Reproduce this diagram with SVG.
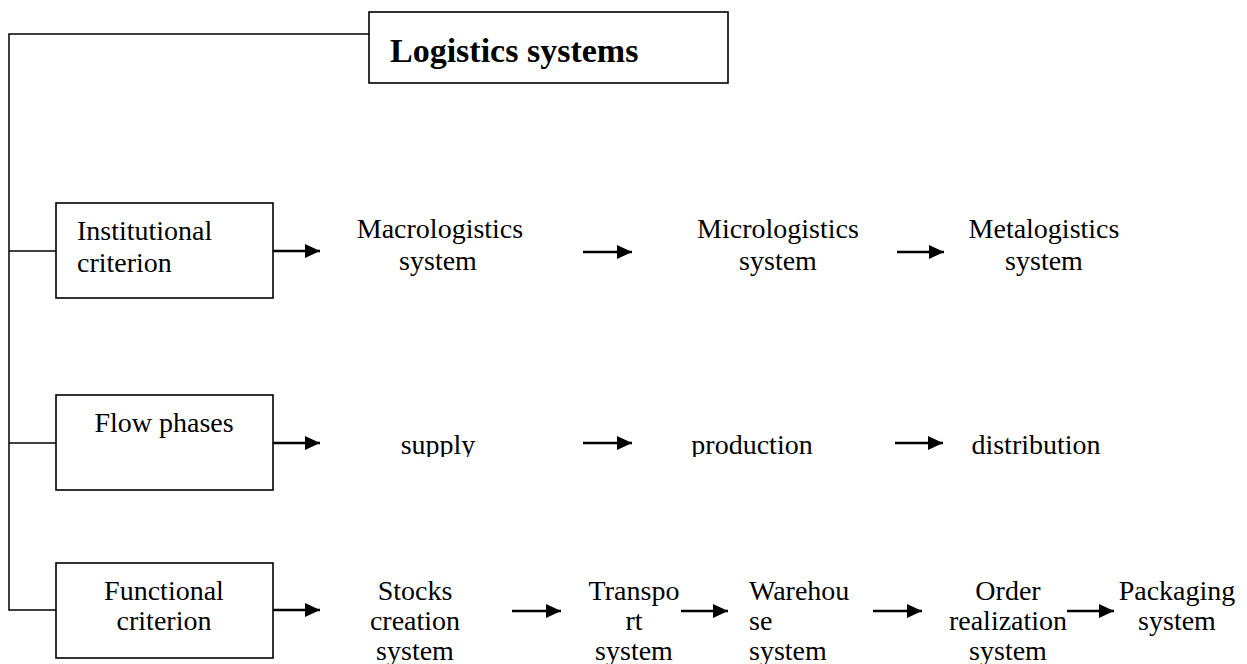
<svg xmlns="http://www.w3.org/2000/svg" width="1247" height="664" viewBox="0 0 1247 664">
  <style>
    .box { fill: #ffffff; stroke: #000000; stroke-width: 1.6; }
    .wire { fill: none; stroke: #000000; stroke-width: 1.5; }
    .arrow { fill: none; stroke: #000000; stroke-width: 2.6; marker-end: url(#head); }
    .lbl { font-family: "Liberation Serif", "Times New Roman", serif; font-size: 28px; fill: #000000; }
    .mid { text-anchor: middle; }
    .title { font-family: "Liberation Serif", "Times New Roman", serif; font-size: 34px; font-weight: bold; fill: #000000; }
  </style>
  <defs>
    <marker id="head" markerUnits="userSpaceOnUse" markerWidth="16" markerHeight="16" refX="15" refY="7" orient="auto">
      <path d="M0,0 L15,7 L0,14 z" fill="#000000"/>
    </marker>
    <!-- the second row of labels is cut off just under the baseline -->
    <clipPath id="rowClip">
      <rect x="0" y="380" width="1247" height="77"/>
    </clipPath>
  </defs>

  <rect width="1247" height="664" fill="#ffffff"/>

  <!-- connectors -->
  <g id="connectors">
    <path class="wire" d="M369,34 H9 V610 H56"/>
    <path class="wire" d="M9,251 H56"/>
    <path class="wire" d="M9,443 H56"/>

    <line class="arrow" x1="273" y1="251" x2="320" y2="251"/>
    <line class="arrow" x1="583" y1="252" x2="632" y2="252"/>
    <line class="arrow" x1="897" y1="252" x2="944" y2="252"/>

    <line class="arrow" x1="273" y1="443" x2="320" y2="443"/>
    <line class="arrow" x1="583" y1="443" x2="632" y2="443"/>
    <line class="arrow" x1="895" y1="443" x2="943" y2="443"/>

    <line class="arrow" x1="273" y1="610" x2="320" y2="610"/>
    <line class="arrow" x1="512" y1="611" x2="561" y2="611"/>
    <line class="arrow" x1="681" y1="611" x2="728" y2="611"/>
    <line class="arrow" x1="873" y1="611" x2="922" y2="611"/>
    <line class="arrow" x1="1067" y1="611" x2="1114" y2="611"/>
  </g>

  <!-- root -->
  <g id="logistics-systems">
    <rect class="box" x="369" y="12" width="359" height="71"/>
    <text class="title" x="390" y="62">Logistics systems</text>
  </g>

  <!-- institutional criterion row -->
  <g id="institutional-criterion">
    <rect class="box" x="56" y="203" width="217" height="95"/>
    <text class="lbl" x="77" y="240">Institutional</text>
    <text class="lbl" x="77" y="272">criterion</text>
  </g>
  <g id="macrologistics">
    <text class="lbl mid" x="440" y="238">Macrologistics</text>
    <text class="lbl mid" x="438" y="270">system</text>
  </g>
  <g id="micrologistics">
    <text class="lbl mid" x="778" y="238">Micrologistics</text>
    <text class="lbl mid" x="778" y="270">system</text>
  </g>
  <g id="metalogistics">
    <text class="lbl mid" x="1044" y="238">Metalogistics</text>
    <text class="lbl mid" x="1044" y="270">system</text>
  </g>

  <!-- flow phases row -->
  <g id="flow-phases">
    <rect class="box" x="56" y="395" width="217" height="95"/>
    <text class="lbl mid" x="164" y="432">Flow phases</text>
  </g>
  <g id="phase-labels" clip-path="url(#rowClip)">
    <g id="supply">
      <text class="lbl mid" x="438" y="454">supply</text>
    </g>
    <g id="production">
      <text class="lbl mid" x="752" y="454">production</text>
    </g>
    <g id="distribution">
      <text class="lbl mid" x="1036" y="454">distribution</text>
    </g>
  </g>

  <!-- functional criterion row -->
  <g id="functional-criterion">
    <rect class="box" x="56" y="563" width="217" height="95"/>
    <text class="lbl mid" x="164" y="600">Functional</text>
    <text class="lbl mid" x="164" y="630">criterion</text>
  </g>
  <g id="stocks-creation">
    <text class="lbl mid" x="415" y="600">Stocks</text>
    <text class="lbl mid" x="415" y="630">creation</text>
    <text class="lbl mid" x="415" y="660">system</text>
  </g>
  <g id="transport">
    <text class="lbl mid" x="634" y="600">Transpo</text>
    <text class="lbl mid" x="634" y="630">rt</text>
    <text class="lbl mid" x="634" y="660">system</text>
  </g>
  <g id="warehouse">
    <text class="lbl" x="749" y="600">Warehou</text>
    <text class="lbl" x="749" y="630">se</text>
    <text class="lbl" x="749" y="660">system</text>
  </g>
  <g id="order-realization">
    <text class="lbl mid" x="1008" y="600">Order</text>
    <text class="lbl mid" x="1008" y="630">realization</text>
    <text class="lbl mid" x="1008" y="660">system</text>
  </g>
  <g id="packaging">
    <text class="lbl mid" x="1177" y="600">Packaging</text>
    <text class="lbl mid" x="1177" y="630">system</text>
  </g>
</svg>
